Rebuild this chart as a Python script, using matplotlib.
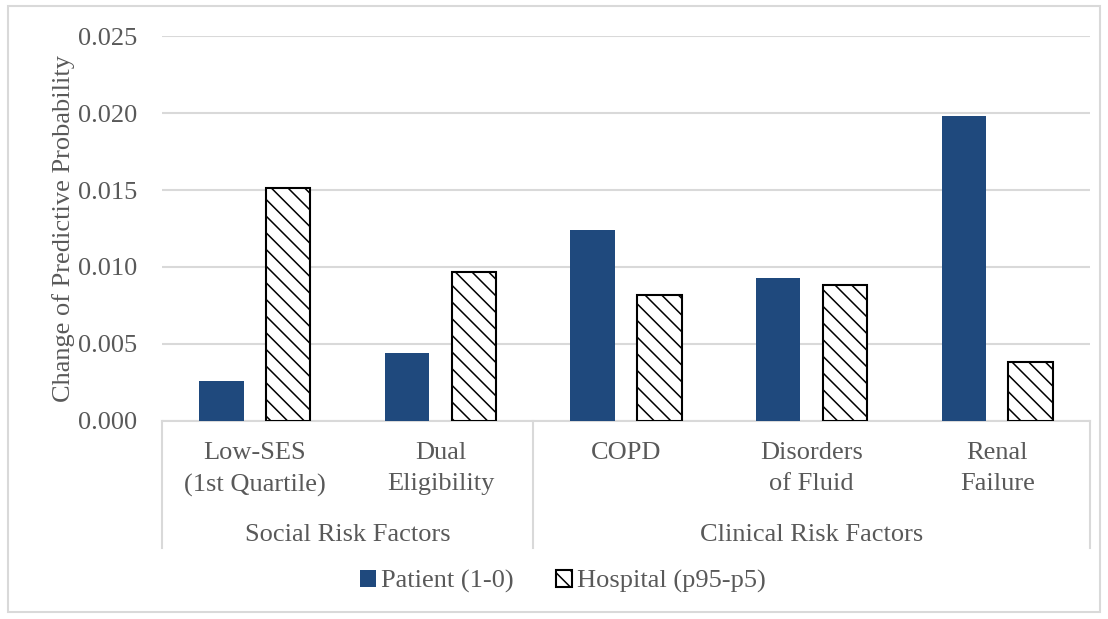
import numpy as np
import matplotlib
matplotlib.use("Agg")
import matplotlib.pyplot as plt
from matplotlib.patches import Rectangle, Patch

# data
categories = ["Low-SES\n(1st Quartile)", "Dual\nEligibility", "COPD",
              "Disorders\nof Fluid", "Renal\nFailure"]
groups = ["Social Risk Factors", "Clinical Risk Factors"]
group_sizes = [2, 3]
patient = [0.0026, 0.0044, 0.0124, 0.0093, 0.0198]
hospital = [0.0151, 0.0097, 0.0082, 0.0088, 0.0038]
yticks = [0.000, 0.005, 0.010, 0.015, 0.020, 0.025]

navy = "#1F497D"
txt = "#595959"
grid = "#D9D9D9"
fs = 19

plt.rcParams["font.family"] = ["Liberation Serif", "DejaVu Serif"]
plt.rcParams["hatch.color"] = "#333333"
plt.rcParams["hatch.linewidth"] = 1.1

fig = plt.figure(figsize=(11.08, 6.19), dpi=100)
ax = fig.add_axes([0.1462, 0.3199, 0.9838 - 0.1462, 0.9418 - 0.3199])

x = np.arange(len(categories))
w = 0.24
ax.bar(x - 0.18, patient, w, color=navy, label="Patient (1-0)", zorder=3)
ax.bar(x + 0.18, hospital, w, color="white", edgecolor="black", linewidth=1.5,
       hatch="\\\\", label="Hospital (p95-p5)", zorder=3)

ax.set_xlim(-0.5, len(categories) - 0.5)
ax.set_ylim(0, 0.025)
ax.set_yticks(yticks)
ax.set_yticklabels([f"{v:.3f}" for v in yticks])
ax.yaxis.grid(True, color=grid, linewidth=1.5, zorder=0)
ax.set_axisbelow(True)
for s in ["top", "right", "left"]:
    ax.spines[s].set_visible(False)
ax.spines["bottom"].set_color(grid)
ax.spines["bottom"].set_linewidth(1.5)

ax.tick_params(axis="y", length=0, pad=18, labelsize=fs, labelcolor=txt)
ax.set_xticks(x)
ax.set_xticklabels(categories, fontsize=fs, color=txt, linespacing=1.55)
ax.tick_params(axis="x", length=0, pad=15)

ax.set_ylabel("Change of Predictive Probability", fontsize=fs, color=txt,
              labelpad=2)

# group separators and group labels
edges = np.concatenate([[0], np.cumsum(group_sizes)]) - 0.5
for e in edges:
    ax.plot([e, e], [0, -0.33], transform=ax.get_xaxis_transform(),
            color=grid, linewidth=1.5, clip_on=False)
for g, a, b in zip(groups, edges[:-1], edges[1:]):
    ax.text((a + b) / 2, -0.295, g, transform=ax.get_xaxis_transform(),
            ha="center", va="center", fontsize=fs, color=txt)

handles = [Patch(facecolor=navy, label="Patient (1-0)"),
           Patch(facecolor="white", edgecolor="black", linewidth=1.5,
                 hatch="\\\\", label="Hospital (p95-p5)")]
leg = fig.legend(handles=handles, loc="center", bbox_to_anchor=(0.508, 0.06),
                 ncol=2, frameon=False, fontsize=fs, handlelength=0.6,
                 handleheight=0.6, handletextpad=0.2, columnspacing=1.6)
for t in leg.get_texts():
    t.set_color(txt)

fig.patches.append(Rectangle((0.007, 0.011), 0.986, 0.98, transform=fig.transFigure,
                             fill=False, edgecolor=grid, linewidth=1.5))

fig.savefig("out.png", dpi=100)
